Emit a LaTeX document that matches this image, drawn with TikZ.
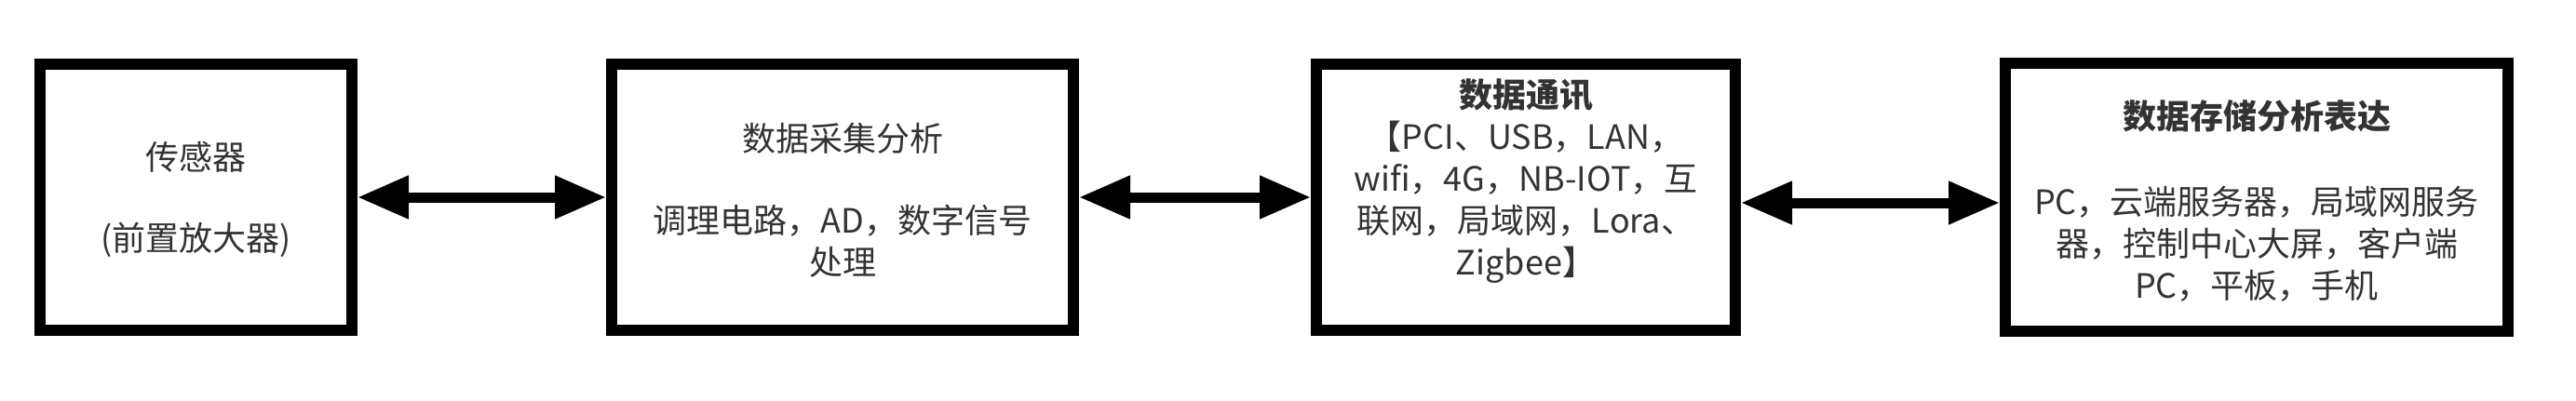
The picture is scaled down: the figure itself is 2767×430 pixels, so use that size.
\documentclass[tikz,border=0pt]{standalone}
\usepackage{fontspec}
\usetikzlibrary{arrows.meta}
\newfontfamily\cjk{Noto Sans CJK SC}
\definecolor{txtgray}{RGB}{51,51,51}
\tikzset{
  box/.style={draw=black, line width=12bp, fill=white, rectangle, inner sep=0pt},
  lbl/.style={align=center, text=txtgray, inner sep=0pt,
    font={\cjk\fontsize{36bp}{45bp}\selectfont}},
  biarrow/.style={line width=11bp,
    {Triangle[length=55bp,width=44bp]}-{Triangle[length=55bp,width=44bp]}}
}
\begin{document}
\begin{tikzpicture}[x=1bp,y=-1bp]
\useasboundingbox (0,0) rectangle (2767,430);
% boxes (outer edges: line width 12)
\node[box, minimum width=335bp, minimum height=286bp] (b1) at (210.5,212) {};
\node[box, minimum width=496bp, minimum height=286bp] (b2) at (905,212) {};
\node[box, minimum width=450bp, minimum height=286bp] (b3) at (1639,212) {};
\node[box, minimum width=540bp, minimum height=288bp] (b4) at (2424,212) {};
% texts
\node[lbl] (t1) at ([yshift=-2.5bp]b1.center) {传感器\\[42bp](前置放大器)};
\node[lbl] (t2) at ([yshift=-3bp]b2.center) {数据采集分析\\[43bp]调理电路，AD，数字信号\\处理};
\node[lbl] (t3) at ([yshift=17bp]b3.center) {{\bfseries 数据通讯}\\【PCI、USB，LAN，\\wifi，4G，NB-IOT，互\\联网，局域网，Lora、\\Zigbee】};
\node[lbl] (t4) at ([yshift=-4bp]b4.center) {{\bfseries 数据存储分析表达}\\[47bp]PC，云端服务器，局域网服务\\器，控制中心大屏，客户端\\PC，平板，手机};
% connectors
\draw[biarrow] (b1.east) -- (b2.west);
\draw[biarrow] (b2.east) -- (b3.west);
\draw[biarrow] ([yshift=-6bp]b3.east) -- ([yshift=-6bp]b4.west);
\end{tikzpicture}
\end{document}
